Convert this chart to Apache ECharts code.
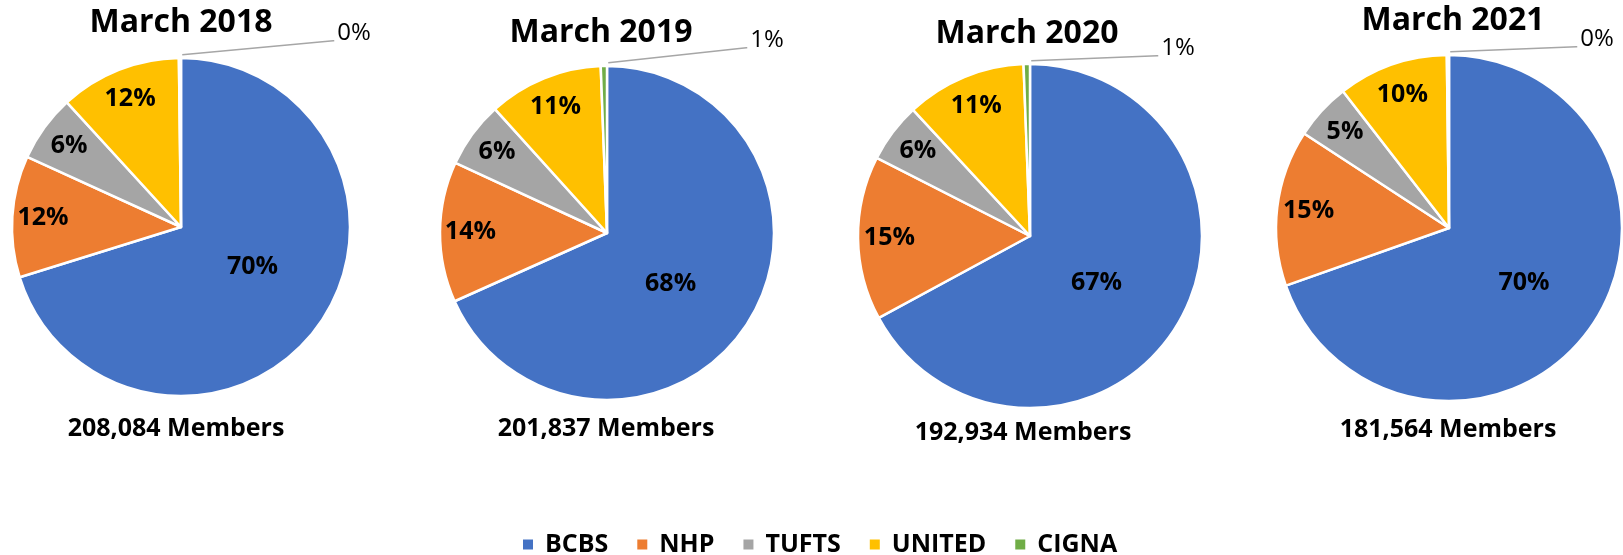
<!DOCTYPE html>
<html>
<head>
<meta charset="utf-8">
<script src="https://cdn.jsdelivr.net/npm/echarts@6/dist/echarts.min.js"></script>
<style>
html,body{margin:0;padding:0;background:#fff;}
#chart{width:1623px;height:555px;}
</style>
</head>
<body>
<div id="chart"></div>
<script>
// ---- data ----
const categories = ['BCBS', 'NHP', 'TUFTS', 'UNITED', 'CIGNA'];
const titles = ['March 2018', 'March 2019', 'March 2020', 'March 2021'];
const memberLabels = ['208,084 Members', '201,837 Members', '192,934 Members', '181,564 Members'];
const share2018 = [70.2, 11.6, 6.4, 11.6, 0.2];
const share2019 = [68.3, 13.6, 6.4, 11.1, 0.6];
const share2020 = [67.1, 15.4, 5.6, 11.3, 0.6];
const share2021 = [69.6, 14.6, 5.3, 10.3, 0.2];
const shares = [share2018, share2019, share2020, share2021];

// ---- layout / style ----
const colors = ['#4472C4', '#ED7D31', '#A5A5A5', '#FFC000', '#70AD47'];
const layout = [
  { cx: 181, cy: 227, r: 169, title: [181, 23], mem: [176, 429], callout: [155, -24], big: [1, -12] },
  { cx: 607, cy: 233, r: 167, title: [601, 33], mem: [606, 429], callout: [142, -25], big: [-9, 4] },
  { cx: 1030, cy: 236, r: 172, title: [1027, 34], mem: [1023, 433], callout: [130, -15], big: [-10, 1] },
  { cx: 1449, cy: 228, r: 173, title: [1453, 21], mem: [1448, 430], callout: [130, -15], big: [2, 3] }
];
const FONT = '"Open Sans", "Noto Sans", sans-serif';

const chart = echarts.init(document.getElementById('chart'), null, { renderer: 'canvas' });

function pct(p) { return Math.round(p.percent) + '%'; }

const series = [];
// main pies
shares.forEach((vals, i) => {
  const L = layout[i];
  series.push({
    type: 'pie',
    name: titles[i],
    center: [L.cx, L.cy],
    radius: [0, L.r],
    startAngle: 90,
    clockwise: true,
    avoidLabelOverlap: false,
    animation: false,
    itemStyle: { borderColor: '#fff', borderWidth: 2.5 },
    emphasis: { disabled: true },
    label: { show: false },
    labelLine: { show: false },
    labelLayout: function (p) {
      if (p.dataIndex === 0) return { dx: L.big[0], dy: L.big[1] };
      if (p.dataIndex !== 4) return {};
      const sx = p.rect.x + p.rect.width;
      const sy = p.rect.y;
      const lx = sx + L.callout[0];
      const ly = sy + L.callout[1];
      return {
        x: lx, y: ly, align: 'left', verticalAlign: 'middle',
        labelLinePoints: [[sx, sy - 2], [lx - 4, ly + 8], [lx - 3, ly + 8]]
      };
    },
    data: categories.map((c, k) => {
      const item = { name: c, value: vals[k], itemStyle: { color: colors[k] } };
      if (k === 0) {
        item.label = { show: true, position: 'inside', formatter: pct,
          fontFamily: FONT, fontWeight: 'bold', fontSize: 25, color: '#000' };
      } else if (k === 4) {
        item.label = { show: true, position: 'outside', formatter: pct,
          fontFamily: FONT, fontWeight: 'normal', fontSize: 24, color: '#000' };
        item.labelLine = { show: true, length: 10, length2: 100,
          lineStyle: { color: '#A6A6A6', width: 1.5 } };
      }
      return item;
    })
  });
});
// label ring overlays for the smaller slices
shares.forEach((vals, i) => {
  const L = layout[i];
  series.push({
    type: 'pie',
    name: titles[i] + ' labels',
    center: [L.cx, L.cy],
    radius: [L.r * 0.6, L.r],
    startAngle: 90,
    clockwise: true,
    silent: true,
    avoidLabelOverlap: false,
    animation: false,
    itemStyle: { color: 'rgba(0,0,0,0)', borderWidth: 0 },
    emphasis: { disabled: true },
    labelLine: { show: false },
    label: { show: false },
    data: categories.map((c, k) => {
      const item = { name: c, value: vals[k] };
      if (k >= 1 && k <= 3) {
        item.label = { show: true, position: 'inside', formatter: pct,
          fontFamily: FONT, fontWeight: 'bold', fontSize: 25, color: '#000' };
      }
      return item;
    })
  });
});

const graphics = [];
layout.forEach((L, i) => {
  graphics.push({
    type: 'text', x: L.title[0], y: L.title[1], silent: true,
    style: { text: titles[i], font: 'bold 32px ' + FONT, fill: '#000',
      textAlign: 'center', textVerticalAlign: 'middle', align: 'center', verticalAlign: 'middle' }
  });
  graphics.push({
    type: 'text', x: L.mem[0], y: L.mem[1], silent: true,
    style: { text: memberLabels[i], font: 'bold 25px ' + FONT, fill: '#000',
      textAlign: 'center', textVerticalAlign: 'middle', align: 'center', verticalAlign: 'middle' }
  });
});

chart.setOption({
  backgroundColor: '#fff',
  animation: false,
  legend: {
    data: categories,
    left: 516,
    top: 527,
    icon: 'rect',
    itemWidth: 12,
    itemHeight: 12,
    itemGap: 27,
    selectedMode: false,
    textStyle: { fontFamily: FONT, fontWeight: 'bold', fontSize: 25, color: '#000', padding: [0, 0, 0, 6] }
  },
  graphic: graphics,
  series: series
});
</script>
</body>
</html>
